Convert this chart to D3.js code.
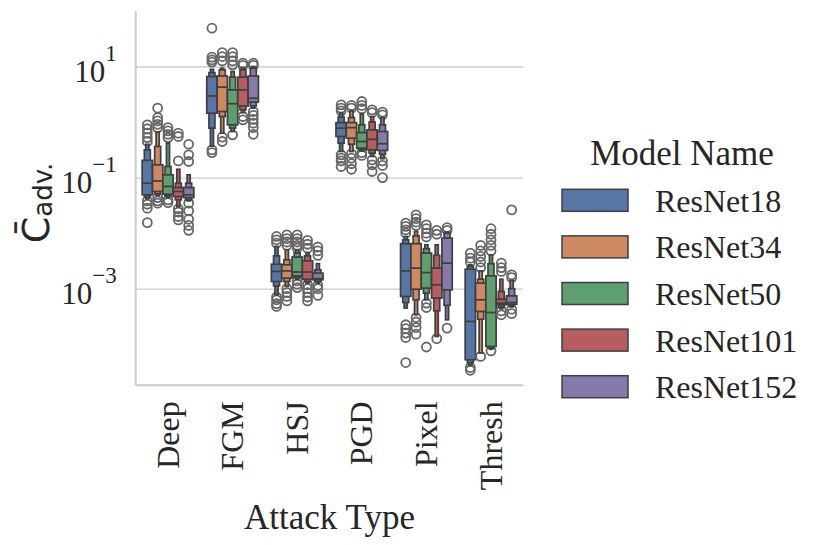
<!DOCTYPE html>
<html>
<head>
<meta charset="utf-8">
<script src="https://cdn.jsdelivr.net/npm/d3@7"></script>
<style>
  body { margin: 0; background: #fff; }
</style>
</head>
<body>
<div id="chart"></div>
<script>
// categories
const attacks = ["Deep", "FGM", "HSJ", "PGD", "Pixel", "Thresh"];
const models = ["ResNet18", "ResNet34", "ResNet50", "ResNet101", "ResNet152"];
const yTickExps = [-3, -1, 1];

// all values are log10 of C_adv, rows = attacks, columns = models
const medians = [
  [-1.10, -1.06, -1.16, -1.25, -1.31],
  [0.47, 0.63, 0.33, 0.58, 0.43],
  [-2.69, -2.68, -2.70, -2.70, -2.82],
  [-0.11, -0.10, -0.35, -0.31, -0.39],
  [-2.68, -2.63, -2.71, -2.93, -2.54],
  [-3.59, -3.20, -3.43, -3.26, -3.25]
];
// widest letter-value box (quartiles)
const innerBoxes = [
  [[-1.31, -0.69], [-1.25, -0.77], [-1.30, -0.95], [-1.34, -1.18], [-1.36, -1.18]],
  [[0.16, 0.82], [0.19, 0.83], [-0.05, 0.58], [0.29, 0.81], [0.36, 0.83]],
  [[-2.87, -2.56], [-2.81, -2.57], [-2.77, -2.43], [-2.83, -2.50], [-2.84, -2.72]],
  [[-0.26, -0.01], [-0.29, -0.01], [-0.47, -0.19], [-0.50, -0.14], [-0.51, -0.17]],
  [[-3.14, -2.19], [-3.01, -2.19], [-2.99, -2.36], [-3.17, -2.63], [-3.02, -2.09]],
  [[-4.28, -2.65], [-3.41, -2.90], [-4.04, -2.77], [-3.29, -3.19], [-3.28, -3.13]]
];
// next letter-value box (eighths)
const midBoxes = [
  [[-1.34, -0.50], [-1.29, -0.44], [-1.33, -0.80], [-1.40, -1.10], [-1.40, -1.10]],
  [[-0.11, 0.89], [0.10, 0.94], [-0.11, 0.81], [0.22, 0.94], [0.29, 0.97]],
  [[-2.95, -2.41], [-2.87, -2.48], [-2.80, -2.36], [-2.87, -2.41], [-2.87, -2.66]],
  [[-0.38, 0.09], [-0.40, 0.08], [-0.50, -0.05], [-0.56, 0.00], [-0.58, -0.05]],
  [[-3.25, -2.12], [-3.20, -2.05], [-3.08, -2.28], [-3.40, -2.40], [-3.30, -2.00]],
  [[-4.33, -2.60], [-3.55, -2.83], [-4.07, -2.55], [-3.33, -3.05], [-3.31, -3.00]]
];
// outermost letter-value box
const outerBoxes = [
  [[-1.38, -0.40], [-1.32, -0.18], [-1.36, -0.38], [-1.52, -0.85], [-1.42, -0.95]],
  [[-0.43, 0.95], [-0.20, 0.97], [-0.17, 0.91], [0.17, 0.98], [0.25, 1.00]],
  [[-3.11, -2.24], [-2.96, -2.30], [-2.83, -2.30], [-2.90, -2.35], [-2.90, -2.55]],
  [[-0.53, 0.16], [-0.53, 0.20], [-0.52, 0.15], [-0.62, 0.10], [-0.66, 0.08]],
  [[-3.35, -2.06], [-3.47, -1.97], [-3.20, -2.21], [-3.86, -2.21], [-3.56, -1.98]],
  [[-4.38, -2.57], [-4.16, -2.68], [-4.09, -2.39], [-3.36, -2.83], [-3.33, -2.85]]
];
const outliers = [
  [[-0.05, -0.12, -0.20, -0.28, -0.35, -1.42, -1.48, -1.55, -1.81],
   [0.25, 0.08, 0.02, -0.04, -0.10, -1.36, -1.42, -1.46],
   [-0.10, -0.16, -0.22, -0.28, -1.40, -1.45],
   [-0.70, -0.20, -0.26, -1.56, -1.62, -1.70, -1.76],
   [-0.40, -0.59, -0.71, -1.46, -1.60, -1.75, -1.86, -1.95]],
  [[1.69, 1.17, 1.12, 1.08, -0.50, -0.55],
   [1.25, 1.18, 1.10, -0.27, -0.35],
   [1.25, 1.18, 1.10, 1.03, -0.23],
   [1.06, 1.02, 0.10, 0.04],
   [1.06, 1.02, 0.19, 0.12, 0.05, -0.02, -0.10, -0.22]],
  [[-2.06, -2.12, -2.18, -3.15, -3.20, -3.27, -3.32],
   [-2.03, -2.10, -2.16, -2.22, -3.00, -3.07, -3.14, -3.22],
   [-2.03, -2.10, -2.16, -2.22, -2.27, -2.86, -2.92, -2.98],
   [-2.13, -2.20, -2.27, -2.93, -3.00, -3.07, -3.15, -3.22],
   [-2.25, -2.32, -2.40, -2.94, -3.00, -3.12]],
  [[0.31, 0.25, 0.20, -0.59, -0.65, -0.70, -0.80],
   [0.30, 0.25, -0.57, -0.65, -0.75, -0.85],
   [0.37, 0.30, 0.24, -0.55, -0.60],
   [0.22, 0.17, -0.68, -0.77, -0.89],
   [0.18, 0.13, -0.70, -0.78, -1.00]],
  [[-1.82, -1.88, -1.94, -2.00, -3.65, -3.72, -3.80, -3.88, -4.33],
   [-1.67, -1.74, -1.80, -1.86, -3.52, -3.60, -3.70, -3.82],
   [-1.85, -1.92, -2.00, -2.07, -3.26, -3.34, -4.05],
   [-1.95, -2.02, -3.90],
   [-1.90, -1.95, -3.71]],
  [[-2.36, -2.45, -2.52, -4.42, -4.47],
   [-2.22, -2.32, -2.42, -2.52, -2.62, -4.22],
   [-1.92, -2.02, -2.12, -2.22, -2.32, -4.12],
   [-2.54, -2.62, -2.69, -3.40, -3.47],
   [-1.58, -2.75, -2.80, -3.37, -3.45]]
];

const palette = ["#5975a4", "#cc8963", "#5f9e6e", "#b55d60", "#857aab"];
const edge = "#3f3f3f";
const textColor = "#262626";
const serif = "'Liberation Serif', 'Times New Roman', serif";

const W = 830, H = 545;
const plot = { left: 135.7, right: 523.3, top: 11, bottom: 385.3 };

const svg = d3.select("#chart").append("svg")
  .attr("width", W)
  .attr("height", H)
  .style("font-family", serif);

svg.append("rect").attr("width", W).attr("height", H).attr("fill", "#fff");

const x = d3.scaleBand().domain(attacks).range([plot.left, plot.right]);
const hue = d3.scaleBand().domain(models)
  .range([x.bandwidth() * 0.1, x.bandwidth() * 0.9]);
const y = d3.scaleLog()
  .domain([Math.pow(10, -4.74), Math.pow(10, 2.0)])
  .range([plot.bottom, plot.top]);
const yv = e => y(Math.pow(10, e));

// y grid + tick labels
const yAxis = svg.append("g")
  .attr("transform", `translate(${plot.left},0)`)
  .call(d3.axisLeft(y)
    .tickValues(yTickExps.map(e => Math.pow(10, e)))
    .tickSize(-(plot.right - plot.left))
    .tickPadding(19)
    .tickFormat(""));
yAxis.select(".domain").remove();
yAxis.selectAll(".tick line").attr("stroke", "#cccccc").attr("stroke-width", 1.4);
yAxis.selectAll(".tick text")
  .attr("font-family", serif)
  .attr("font-size", 31)
  .attr("fill", textColor)
  .attr("dy", "0.48em")
  .each(function (d) {
    const t = d3.select(this);
    const e = Math.round(Math.log10(d));
    t.append("tspan").text("10");
    t.append("tspan")
      .attr("font-size", 23)
      .attr("dy", "-0.9em")
      .text(e < 0 ? "\u2212" + (-e) : String(e));
  });

// spines
svg.append("line")
  .attr("x1", plot.left).attr("x2", plot.left)
  .attr("y1", plot.top).attr("y2", plot.bottom)
  .attr("stroke", "#cccccc").attr("stroke-width", 2);
svg.append("line")
  .attr("x1", plot.left).attr("x2", plot.right)
  .attr("y1", plot.bottom).attr("y2", plot.bottom)
  .attr("stroke", "#cccccc").attr("stroke-width", 2);

// x tick labels, rotated
const xAxis = svg.append("g")
  .attr("transform", `translate(0,${plot.bottom})`)
  .call(d3.axisBottom(x).tickSize(0));
xAxis.select(".domain").remove();
xAxis.selectAll(".tick text")
  .attr("font-family", serif)
  .attr("font-size", 32)
  .attr("fill", textColor)
  .attr("text-anchor", "end")
  .attr("transform", "rotate(-90)")
  .attr("x", -16)
  .attr("y", 0)
  .attr("dy", "0.33em");

// letter-value boxes
const levels = [
  { data: outerBoxes, w: 0.3 },
  { data: midBoxes, w: 0.58 },
  { data: innerBoxes, w: 1 }
];
const hw = hue.bandwidth();

attacks.forEach((a, i) => {
  const g = svg.append("g").attr("transform", `translate(${x(a)},0)`);
  models.forEach((m, j) => {
    const cx = hue(m) + hw / 2;
    // outliers first, behind the boxes
    g.selectAll(null)
      .data(outliers[i][j])
      .enter()
      .append("circle")
      .attr("cx", cx)
      .attr("cy", d => yv(d))
      .attr("r", 4.5)
      .attr("fill", "none")
      .attr("stroke", "#666666")
      .attr("stroke-width", 1.8);
    levels.forEach(lv => {
      const [lo, hi] = lv.data[i][j];
      const bw = hw * lv.w;
      g.append("rect")
        .attr("x", cx - bw / 2)
        .attr("width", bw)
        .attr("y", yv(hi))
        .attr("height", yv(lo) - yv(hi))
        .attr("fill", palette[j])
        .attr("stroke", edge)
        .attr("stroke-width", 1.7);
    });
    g.append("line")
      .attr("x1", cx - hw / 2).attr("x2", cx + hw / 2)
      .attr("y1", yv(medians[i][j])).attr("y2", yv(medians[i][j]))
      .attr("stroke", edge)
      .attr("stroke-width", 1.7);
  });
});

// axis labels
svg.append("text")
  .attr("x", (plot.left + plot.right) / 2)
  .attr("y", 529)
  .attr("text-anchor", "middle")
  .attr("font-size", 35)
  .attr("fill", textColor)
  .text("Attack Type");

const ylab = svg.append("text")
  .attr("transform", "translate(49,203) rotate(-90)")
  .attr("text-anchor", "middle")
  .attr("font-family", "'DejaVu Sans', sans-serif")
  .attr("font-size", 38)
  .attr("fill", textColor);
ylab.append("tspan").text("C\u0304");
ylab.append("tspan").attr("font-size", 26).attr("dy", "0.12em").text("adv.");

// legend
const legend = svg.append("g");
legend.append("text")
  .attr("x", 682)
  .attr("y", 165)
  .attr("text-anchor", "middle")
  .attr("font-size", 35)
  .attr("fill", textColor)
  .text("Model Name");

const rows = legend.selectAll(".row")
  .data(models)
  .enter()
  .append("g")
  .attr("class", "row")
  .attr("transform", (d, i) => `translate(562,${189.3 + i * 46.6})`);
rows.append("rect")
  .attr("width", 66)
  .attr("height", 22)
  .attr("fill", (d, i) => palette[i])
  .attr("stroke", edge)
  .attr("stroke-width", 1.5);
rows.append("text")
  .attr("x", 93)
  .attr("y", 11)
  .attr("dy", "0.36em")
  .attr("font-size", 32)
  .attr("fill", textColor)
  .text(d => d);
</script>
</body>
</html>
